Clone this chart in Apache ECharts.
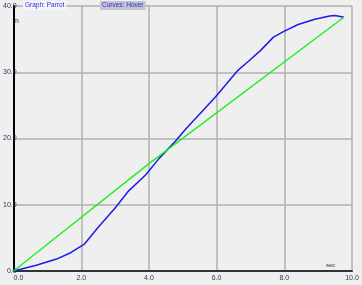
<!DOCTYPE html>
<html>
<head>
<meta charset="utf-8">
<script src="https://cdn.jsdelivr.net/npm/echarts@6/dist/echarts.min.js"></script>
<style>
html,body{margin:0;padding:0;background:#efefef;}
#c{width:362px;height:285px;}
</style>
</head>
<body>
<div id="c"></div>
<script>
const xTicks = [0, 2, 4, 6, 8, 10];
const yTicks = [0, 10, 20, 30, 40];
const hoverCurve = [
  [0, 0], [0.67, 0.86], [1.27, 1.8], [1.7, 2.8], [2.1, 4.1], [2.5, 6.6],
  [3.0, 9.5], [3.4, 12.1], [3.9, 14.5], [4.3, 17.0], [4.73, 19.3], [5.1, 21.5],
  [5.5, 23.7], [5.97, 26.3], [6.3, 28.3], [6.61, 30.2], [6.95, 31.7], [7.3, 33.3],
  [7.68, 35.3], [8.0, 36.2], [8.41, 37.2], [8.9, 38.0], [9.34, 38.5], [9.5, 38.55], [9.76, 38.3]
];
const linearCurve = [[0, 0], [4, 16.2], [9.76, 38.3]];

const chart = echarts.init(document.getElementById('c'));
const font = 'Liberation Sans';
chart.setOption({
  backgroundColor: '#efefef',
  animation: false,
  title: [
    {text: 'Graph: Parrot', left: 23, top: 1, padding: [1, 2],
     backgroundColor: '#f6f6f6',
     textStyle: {fontSize: 6.5, color: '#2828e8', fontWeight: 'normal', fontFamily: font}},
    {text: 'Curves: Hover', left: 100, top: 1, padding: [1, 2],
     backgroundColor: '#c4c4cc',
     textStyle: {fontSize: 6.5, color: '#2828e8', fontWeight: 'normal', fontFamily: font}}
  ],
  grid: {left: 10, right: 10, top: 6, bottom: 14, containLabel: false},
  xAxis: {
    type: 'value', min: xTicks[0], max: xTicks[xTicks.length - 1], interval: 2,
    axisLine: {show: true, onZero: false, lineStyle: {color: '#333', width: 2}},
    axisTick: {show: false},
    splitLine: {show: true, lineStyle: {color: '#b0b0b0', width: 1.5}},
    axisLabel: {fontSize: 7, color: '#333355', fontFamily: font, margin: 4,
      formatter: v => v.toFixed(1),
      alignMinLabel: 'left'}
  },
  yAxis: {
    type: 'value', min: yTicks[0], max: yTicks[yTicks.length - 1], interval: 10,
    axisLine: {show: true, onZero: false, lineStyle: {color: '#000', width: 2}},
    axisTick: {show: false},
    splitLine: {show: true, lineStyle: {color: '#b0b0b0', width: 1.5}},
    axisLabel: {fontSize: 7, color: '#333355', fontFamily: font, margin: -3, align: 'right',
      formatter: v => v.toFixed(1)}
  },
  graphic: [
    {type: 'text', left: 13, top: 18, style: {text: 'm', fontSize: 7, fill: '#8b2020', fontFamily: font}},
    {type: 'text', left: 326, top: 262, style: {text: 'sec', fontSize: 6, fill: '#333355', fontFamily: font}}
  ],
  series: [
    {type: 'line', data: hoverCurve, showSymbol: false, lineStyle: {color: '#1c1ce6', width: 1.5}, z: 3},
    {type: 'line', data: linearCurve, showSymbol: false, lineStyle: {color: '#22ee22', width: 1.5}, z: 4}
  ]
});
</script>
</body>
</html>
